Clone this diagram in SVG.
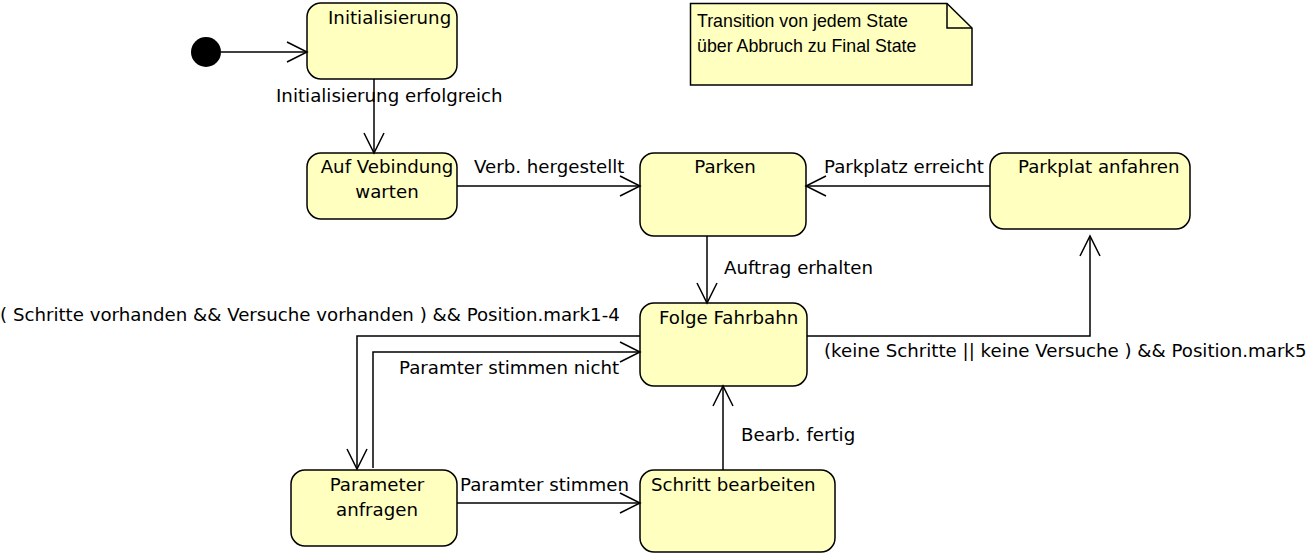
<svg xmlns="http://www.w3.org/2000/svg" width="1309" height="560" viewBox="0 0 1309 560">
<style>
.st{fill:#ffffc0;stroke:#000;stroke-width:1.5}
.t{font-family:"DejaVu Sans",sans-serif;font-size:18.2px;fill:#000}
.n{font-family:"Liberation Sans",Arial,sans-serif;font-size:17.8px;fill:#000}
.c{fill:none;stroke:#000;stroke-width:1.5}
</style>
<defs>
<marker id="a" markerUnits="userSpaceOnUse" markerWidth="24" markerHeight="24" refX="21" refY="11" orient="auto" overflow="visible">
<path d="M1,1 L21,11 L1,21" fill="none" stroke="#000" stroke-width="1.5"/>
</marker>
</defs>
<rect width="1309" height="560" fill="#fff"/>
<g id="initial"><circle cx="206" cy="52" r="15" fill="#000"/></g>
<g id="initialisierung"><rect class="st" x="307" y="3" width="150" height="76" rx="14"/><text class="t" x="328" y="24">Initialisierung</text></g>
<g id="auf-verbindung"><rect class="st" x="307" y="153" width="150" height="66" rx="14"/><text class="t" x="387" y="173" text-anchor="middle">Auf Vebindung</text><text class="t" x="387" y="198" text-anchor="middle">warten</text></g>
<g id="parken"><rect class="st" x="640" y="153" width="166" height="83" rx="14"/><text class="t" x="725" y="173" text-anchor="middle">Parken</text></g>
<g id="parkplat-anfahren"><rect class="st" x="990" y="153" width="200" height="76" rx="14"/><text class="t" x="1018" y="173">Parkplat anfahren</text></g>
<g id="folge-fahrbahn"><rect class="st" x="640" y="303" width="167" height="83" rx="14"/><text class="t" x="659" y="324">Folge Fahrbahn</text></g>
<g id="parameter-anfragen"><rect class="st" x="291" y="470" width="166" height="76" rx="14"/><text class="t" x="377" y="491" text-anchor="middle">Parameter</text><text class="t" x="377" y="516" text-anchor="middle">anfragen</text></g>
<g id="schritt-bearbeiten"><rect class="st" x="640" y="470" width="195" height="82" rx="14"/><text class="t" x="651" y="491">Schritt bearbeiten</text></g>
<g id="note"><path class="st" d="M690.5,3.5 H947 L972,28 V85 H690.5 Z"/><path class="c" d="M947,3.5 V28 H972"/><text class="n" x="697" y="27">Transition von jedem State</text><text class="n" x="697" y="52">über Abbruch zu Final State</text></g>
<g id="connectors">
<path class="c" d="M221,52 H307" marker-end="url(#a)"/>
<path class="c" d="M374,79 V153" marker-end="url(#a)"/>
<text class="t" x="276" y="102">Initialisierung erfolgreich</text>
<path class="c" d="M457,186 H640" marker-end="url(#a)"/>
<text class="t" x="474" y="173">Verb. hergestellt</text>
<path class="c" d="M990,186 H806" marker-end="url(#a)"/>
<text class="t" x="824" y="173">Parkplatz erreicht</text>
<path class="c" d="M707,236 V303" marker-end="url(#a)"/>
<text class="t" x="724" y="274">Auftrag erhalten</text>
<path class="c" d="M807,336 H1090 V236" marker-end="url(#a)"/>
<text class="t" x="824" y="357">(keine Schritte || keine Versuche ) &amp;&amp; Position.mark5</text>
<path class="c" d="M640,336 H357 V469" marker-end="url(#a)"/>
<text class="t" x="0" y="321">( Schritte vorhanden &amp;&amp; Versuche vorhanden ) &amp;&amp; Position.mark1-4</text>
<path class="c" d="M373,468 V352 H640" marker-end="url(#a)"/>
<text class="t" x="399" y="374">Paramter stimmen nicht</text>
<path class="c" d="M457,503 H640" marker-end="url(#a)"/>
<text class="t" x="460" y="491">Paramter stimmen</text>
<path class="c" d="M723,470 V386" marker-end="url(#a)"/>
<text class="t" x="741" y="441">Bearb. fertig</text>
</g>
</svg>
